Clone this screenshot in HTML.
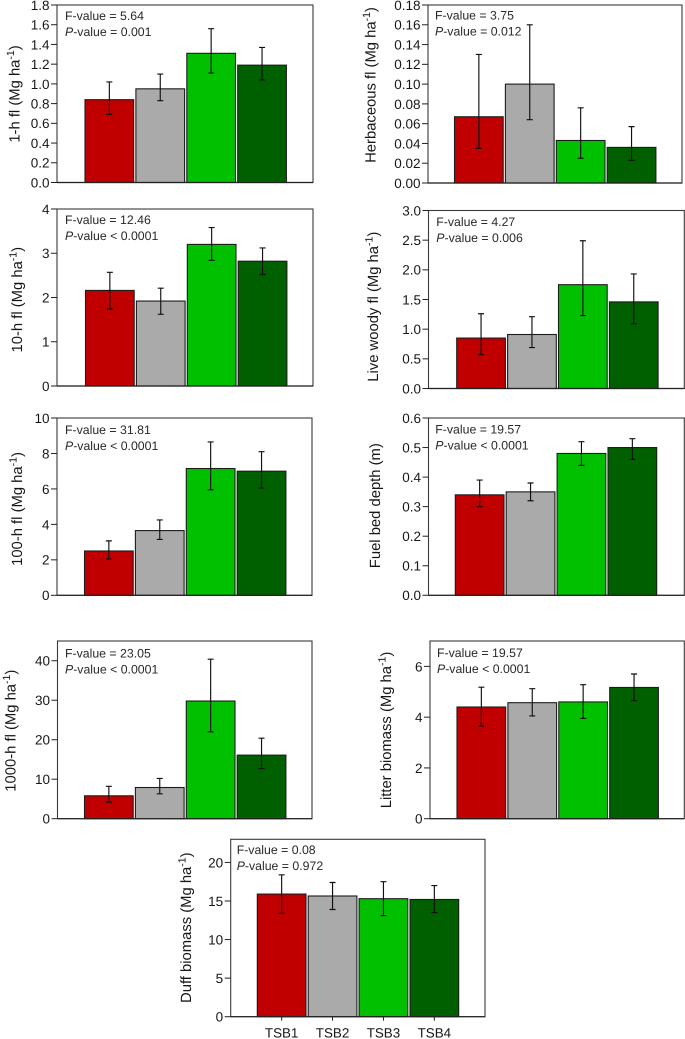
<!DOCTYPE html>
<html lang="en">
<head>
<meta charset="utf-8">
<title>Fuel load by TSB class</title>
<style>
html,body{margin:0;padding:0;background:#fff;}
#figure{display:block;width:685px;height:1039px;font-family:"Liberation Sans",Arial,sans-serif;text-rendering:geometricPrecision;}
</style>
</head>
<body>
<svg id="figure" xmlns="http://www.w3.org/2000/svg" width="685" height="1039" viewBox="0 0 685 1039"></svg>
<script>
const categories = ['TSB1', 'TSB2', 'TSB3', 'TSB4'];
const barColors = ['#c00000', '#aaaaaa', '#00c000', '#006000'];

const oneHourMeans = [0.84, 0.95, 1.31, 1.19];
const oneHourUpper = [1.02, 1.10, 1.56, 1.37];
const oneHourLower = [0.69, 0.83, 1.11, 1.04];
const oneHourTicks = ['0.0', '0.2', '0.4', '0.6', '0.8', '1.0', '1.2', '1.4', '1.6', '1.8'];

const herbMeans = [0.067, 0.100, 0.043, 0.036];
const herbUpper = [0.130, 0.160, 0.076, 0.057];
const herbLower = [0.035, 0.064, 0.025, 0.023];
const herbTicks = ['0.00', '0.02', '0.04', '0.06', '0.08', '0.10', '0.12', '0.14', '0.16', '0.18'];

const tenHourMeans = [2.16, 1.92, 3.20, 2.82];
const tenHourUpper = [2.57, 2.21, 3.58, 3.12];
const tenHourLower = [1.74, 1.62, 2.84, 2.52];
const tenHourTicks = ['0', '1', '2', '3', '4'];

const woodyMeans = [0.85, 0.91, 1.75, 1.46];
const woodyUpper = [1.26, 1.21, 2.49, 1.93];
const woodyLower = [0.57, 0.69, 1.23, 1.09];
const woodyTicks = ['0.0', '0.5', '1.0', '1.5', '2.0', '2.5', '3.0'];

const hundredHourMeans = [2.50, 3.65, 7.15, 7.00];
const hundredHourUpper = [3.07, 4.25, 8.65, 8.10];
const hundredHourLower = [2.05, 3.15, 5.95, 6.05];
const hundredHourTicks = ['0', '2', '4', '6', '8', '10'];

const depthMeans = [0.34, 0.35, 0.48, 0.50];
const depthUpper = [0.39, 0.38, 0.52, 0.53];
const depthLower = [0.30, 0.32, 0.44, 0.46];
const depthTicks = ['0.0', '0.1', '0.2', '0.3', '0.4', '0.5', '0.6'];

const thousandHourMeans = [5.8, 7.9, 29.8, 16.1];
const thousandHourUpper = [8.2, 10.2, 40.4, 20.4];
const thousandHourLower = [4.2, 6.3, 22.0, 12.7];
const thousandHourTicks = ['0', '10', '20', '30', '40'];

const litterMeans = [4.40, 4.57, 4.60, 5.17];
const litterUpper = [5.18, 5.12, 5.28, 5.70];
const litterLower = [3.65, 4.05, 3.95, 4.65];
const litterTicks = ['0', '2', '4', '6'];

const duffMeans = [15.9, 15.65, 15.3, 15.2];
const duffUpper = [18.4, 17.4, 17.5, 17.0];
const duffLower = [13.4, 13.9, 13.1, 13.5];
const duffTicks = ['0', '5', '10', '15', '20'];

const svg = document.getElementById('figure');
const NS = 'http://www.w3.org/2000/svg';
const BAR_WIDTH = 48.7;
const BAR_PITCH = 50.9;
const INK = '#161616';

function make(tag, parent, attrs) {
  const node = document.createElementNS(NS, tag);
  for (const key in attrs) node.setAttribute(key, attrs[key]);
  parent.appendChild(node);
  return node;
}

function drawPanel(p) {
  const yScale = function (v) { return p.bottom - (v / p.yMax) * (p.bottom - p.top); };
  const xScale = function (i) { return p.barStart + i * BAR_PITCH; };

  const group = make('g', svg, {});
  
  

  const frame = make('rect', group, {
    x: p.left, y: p.top, width: p.right - p.left, height: p.bottom - p.top,
    fill: '#ffffff', stroke: '#3a3a3a', 'stroke-width': 1.1
  });
  
  

  p.means.forEach(function (value, i) {
    const bar = make('rect', group, {
      x: xScale(i), y: yScale(value), width: BAR_WIDTH, height: p.bottom - yScale(value),
      fill: barColors[i], stroke: '#1c1c1c', 'stroke-width': 1.1
    });
    
    
  });

  p.means.forEach(function (value, i) {
    const cx = xScale(i) + BAR_WIDTH / 2;
    const yHi = yScale(p.upper[i]);
    const yLo = yScale(p.lower[i]);
    const err = make('path', group, {
      d: 'M' + (cx - 3) + ' ' + yHi + 'H' + (cx + 3) + 'M' + cx + ' ' + yHi + 'V' + yLo + 'M' + (cx - 3) + ' ' + yLo + 'H' + (cx + 3),
      fill: 'none', stroke: '#111111', 'stroke-width': 1.15
    });
    
    
  });

  const baseline = make('line', group, {
    x1: p.left, x2: p.right, y1: p.bottom, y2: p.bottom, stroke: '#222222', 'stroke-width': 1.2
  });
  
  

  p.ticks.forEach(function (label) {
    const y = yScale(parseFloat(label));
    const tick = make('line', group, {
      x1: p.left - 6, x2: p.left, y1: y, y2: y, stroke: '#222222', 'stroke-width': 1
    });
    
    
    const text = make('text', group, {
      x: p.left - 7.5, y: y + 4.9, 'text-anchor': 'end', 'font-size': 13.5, fill: INK
    });
    
    
    text.textContent = label;
  });

  const title = make('text', group, {
    transform: 'translate(' + p.titleX + ' ' + p.titleY + ') rotate(-90)',
    'text-anchor': 'middle', 'font-size': 14.8, fill: INK
  });
  
  
  title.appendChild(document.createTextNode(p.title));
  if (p.unit) {
    title.appendChild(document.createTextNode(' (Mg ha'));
    make('tspan', title, { dy: -5.5, 'font-size': 10.5 }).textContent = '-1';
    make('tspan', title, { dy: 5.5 }).textContent = ')';
  }

  const fText = make('text', group, {
    x: p.statX, y: p.statY, 'font-size': 12.3, fill: '#2a2a2a'
  });
  
  
  fText.textContent = p.fValue;

  const pText = make('text', group, {
    x: p.statX, y: p.statY + 16, 'font-size': 12.3, fill: '#2a2a2a'
  });
  
  
  make('tspan', pText, { 'font-style': 'italic' }).textContent = 'P';
  pText.appendChild(document.createTextNode(p.pValue));

  if (p.showCategories) {
    categories.forEach(function (label, i) {
      const cx = xScale(i) + BAR_WIDTH / 2;
      const tick = make('line', group, {
        x1: cx, x2: cx, y1: p.bottom, y2: p.bottom + 4, stroke: '#222222', 'stroke-width': 1
      });
      
      
      const text = make('text', group, {
        x: cx, y: p.bottom + 21, 'text-anchor': 'middle', 'font-size': 13.4, fill: INK
      });
      
      
      text.textContent = label;
    });
  }
}

drawPanel({ name: 'one-hour-fuel', left: 57, right: 313, top: 5, bottom: 182.5, yMax: 1.8, barStart: 85,
  means: oneHourMeans, upper: oneHourUpper, lower: oneHourLower, ticks: oneHourTicks,
  title: '1-h fl', unit: true, titleX: 19.5, titleY: 94,
  fValue: 'F-value = 5.64', pValue: '-value = 0.001', statX: 65, statY: 20 });

drawPanel({ name: 'herbaceous-fuel', left: 428, right: 682, top: 5, bottom: 183, yMax: 0.18, barStart: 454.5,
  means: herbMeans, upper: herbUpper, lower: herbLower, ticks: herbTicks,
  title: 'Herbaceous fl', unit: true, titleX: 375.7, titleY: 85,
  fValue: 'F-value = 3.75', pValue: '-value = 0.012', statX: 435, statY: 19.5 });

drawPanel({ name: 'ten-hour-fuel', left: 57, right: 313, top: 209, bottom: 386, yMax: 4, barStart: 85.5,
  means: tenHourMeans, upper: tenHourUpper, lower: tenHourLower, ticks: tenHourTicks,
  title: '10-h fl', unit: true, titleX: 22, titleY: 299.7,
  fValue: 'F-value = 12.46', pValue: '-value < 0.0001', statX: 65, statY: 224 });

drawPanel({ name: 'live-woody-fuel', left: 428.5, right: 684.3, top: 210.5, bottom: 388.5, yMax: 3, barStart: 456.7,
  means: woodyMeans, upper: woodyUpper, lower: woodyLower, ticks: woodyTicks,
  title: 'Live woody fl', unit: true, titleX: 378, titleY: 306.7,
  fValue: 'F-value = 4.27', pValue: '-value = 0.006', statX: 436.3, statY: 226 });

drawPanel({ name: 'hundred-hour-fuel', left: 57, right: 312, top: 418, bottom: 595.3, yMax: 10, barStart: 84.5,
  means: hundredHourMeans, upper: hundredHourUpper, lower: hundredHourLower, ticks: hundredHourTicks,
  title: '100-h fl', unit: true, titleX: 22, titleY: 509,
  fValue: 'F-value = 31.81', pValue: '-value < 0.0001', statX: 65, statY: 434 });

drawPanel({ name: 'fuel-bed-depth', left: 428.5, right: 684.3, top: 418, bottom: 595.3, yMax: 0.6, barStart: 455.3,
  means: depthMeans, upper: depthUpper, lower: depthLower, ticks: depthTicks,
  title: 'Fuel bed depth (m)', unit: false, titleX: 380, titleY: 505.7,
  fValue: 'F-value = 19.57', pValue: '-value < 0.0001', statX: 435.3, statY: 433.3 });

drawPanel({ name: 'thousand-hour-fuel', left: 57.5, right: 312, top: 641, bottom: 818.7, yMax: 45, barStart: 84.5,
  means: thousandHourMeans, upper: thousandHourUpper, lower: thousandHourLower, ticks: thousandHourTicks,
  title: '1000-h fl', unit: true, titleX: 15.7, titleY: 730.7,
  fValue: 'F-value = 23.05', pValue: '-value < 0.0001', statX: 65, statY: 657.5 });

drawPanel({ name: 'litter-biomass', left: 430, right: 684.3, top: 641, bottom: 818.7, yMax: 7, barStart: 457,
  means: litterMeans, upper: litterUpper, lower: litterLower, ticks: litterTicks,
  title: 'Litter biomass', unit: true, titleX: 391, titleY: 730,
  fValue: 'F-value = 19.57', pValue: '-value < 0.0001', statX: 437, statY: 657 });

drawPanel({ name: 'duff-biomass', left: 230.7, right: 485, top: 839.3, bottom: 1016.7, yMax: 23, barStart: 257.3,
  means: duffMeans, upper: duffUpper, lower: duffLower, ticks: duffTicks,
  title: 'Duff biomass', unit: true, titleX: 191, titleY: 927.7,
  fValue: 'F-value = 0.08', pValue: '-value = 0.972', statX: 236.7, statY: 854, showCategories: true });
</script>
</body>
</html>
